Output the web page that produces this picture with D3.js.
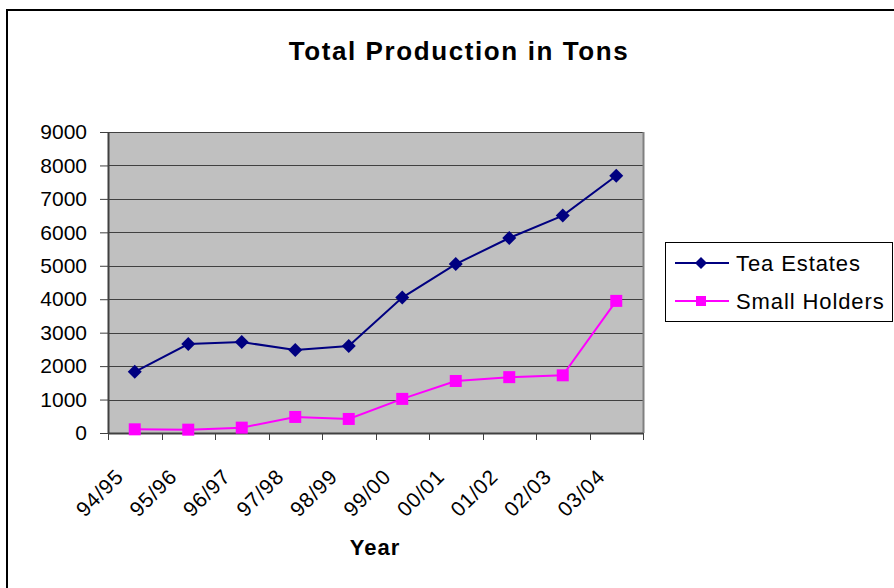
<!DOCTYPE html>
<html>
<head>
<meta charset="utf-8">
<script src="https://cdn.jsdelivr.net/npm/d3@7"></script>
<style>
  html, body { margin: 0; padding: 0; background: #fff; }
  svg { display: block; font-family: Arial, "Liberation Sans", sans-serif; }
</style>
</head>
<body>
<svg id="chart" width="894" height="588"></svg>
<script>
// Production figures by season, in tons
const years = ["94/95", "95/96", "96/97", "97/98", "98/99", "99/00", "00/01", "01/02", "02/03", "03/04"];
const teaEstates = [1830, 2660, 2720, 2480, 2600, 4050, 5050, 5830, 6500, 7690];
const smallHolders = [110, 100, 160, 480, 420, 1020, 1555, 1670, 1725, 3950];
const yTicks = [0, 1000, 2000, 3000, 4000, 5000, 6000, 7000, 8000, 9000];

const series = [
  { name: "Tea Estates", values: teaEstates, color: "#000080", shape: "diamond" },
  { name: "Small Holders", values: smallHolders, color: "#FF00FF", shape: "square" }
];

const svg = d3.select("#chart");
const plot = { left: 108, top: 132, right: 643, bottom: 433 };

// outer chart frame
svg.append("rect")
  .attr("x", 7).attr("y", 10).attr("width", 900).attr("height", 600)
  .attr("fill", "#fff").attr("stroke", "#000").attr("stroke-width", 2);

const x = d3.scaleBand().domain(years).range([plot.left, plot.right]);
const y = d3.scaleLinear().domain([0, 9000]).range([plot.bottom, plot.top]);

// plot background
svg.append("rect")
  .attr("x", plot.left).attr("y", plot.top)
  .attr("width", plot.right - plot.left).attr("height", plot.bottom - plot.top)
  .attr("fill", "#C0C0C0");

// gridlines
svg.append("g").selectAll("line").data(yTicks.slice(1)).join("line")
  .attr("x1", plot.left).attr("x2", plot.right)
  .attr("y1", d => Math.round(y(d)) + 0.5).attr("y2", d => Math.round(y(d)) + 0.5)
  .attr("stroke", "#404040").attr("stroke-width", 1);

// right edge of plot area
svg.append("line")
  .attr("x1", plot.right + 0.5).attr("x2", plot.right + 0.5)
  .attr("y1", plot.top).attr("y2", plot.bottom)
  .attr("stroke", "#808080").attr("stroke-width", 2);

// y axis
const yAxis = svg.append("g")
  .attr("transform", `translate(${plot.left},0)`)
  .call(d3.axisLeft(y).tickValues(yTicks).tickFormat(d3.format("d"))
    .tickSize(8).tickPadding(13).tickSizeOuter(0));
yAxis.select(".domain").attr("stroke", "#404040").attr("stroke-width", 2);
yAxis.selectAll(".tick line").attr("stroke", "#404040");
yAxis.selectAll(".tick text")
  .attr("font-size", 21).attr("fill", "#000")
  .attr("font-family", "Arial, 'Liberation Sans', sans-serif");

// x axis: ticks at category boundaries
const boundaries = d3.range(years.length + 1).map(i => plot.left + i * x.bandwidth());
const xg = svg.append("g");
xg.append("line")
  .attr("x1", plot.left).attr("x2", plot.right)
  .attr("y1", plot.bottom + 0.5).attr("y2", plot.bottom + 0.5)
  .attr("stroke", "#404040").attr("stroke-width", 2);
xg.selectAll("line.tk").data(boundaries).join("line")
  .attr("class", "tk")
  .attr("x1", d => Math.round(d) + 0.5).attr("x2", d => Math.round(d) + 0.5)
  .attr("y1", plot.bottom).attr("y2", plot.bottom + 7)
  .attr("stroke", "#404040");

xg.selectAll("text").data(years).join("text")
  .attr("transform", d => `translate(${x(d) + x.bandwidth() / 2 - 10},${478}) rotate(-45)`)
  .attr("text-anchor", "end")
  .attr("font-size", 21)
  .attr("letter-spacing", 0.8)
  .text(d => d);

// lines and markers
const line = d3.line()
  .x((d, i) => x(years[i]) + x.bandwidth() / 2)
  .y(d => y(d));

series.forEach(s => {
  svg.append("path")
    .attr("d", line(s.values))
    .attr("fill", "none").attr("stroke", s.color).attr("stroke-width", 2);
  const g = svg.append("g");
  s.values.forEach((v, i) => {
    const cx = x(years[i]) + x.bandwidth() / 2, cy = y(v);
    if (s.shape === "diamond") {
      g.append("path")
        .attr("d", `M${cx},${cy - 7}L${cx + 7},${cy}L${cx},${cy + 7}L${cx - 7},${cy}Z`)
        .attr("fill", s.color);
    } else {
      g.append("rect")
        .attr("x", cx - 6).attr("y", cy - 6).attr("width", 12).attr("height", 12)
        .attr("fill", s.color);
    }
  });
});

// title
svg.append("text")
  .attr("x", 459).attr("y", 60)
  .attr("text-anchor", "middle")
  .attr("font-size", 26).attr("font-weight", "bold")
  .attr("letter-spacing", 1.6)
  .text("Total Production in Tons");

// x axis title
svg.append("text")
  .attr("x", 375).attr("y", 555)
  .attr("text-anchor", "middle")
  .attr("font-size", 22).attr("font-weight", "bold")
  .attr("letter-spacing", 1)
  .text("Year");

// legend
const lg = svg.append("g");
lg.append("rect")
  .attr("x", 665.5).attr("y", 242.5).attr("width", 227).attr("height", 79)
  .attr("fill", "#fff").attr("stroke", "#000").attr("stroke-width", 1);
series.forEach((s, i) => {
  const ly = 263 + i * 38;
  lg.append("line")
    .attr("x1", 675).attr("x2", 729).attr("y1", ly).attr("y2", ly)
    .attr("stroke", s.color).attr("stroke-width", 2);
  if (s.shape === "diamond") {
    lg.append("path")
      .attr("d", `M701,${ly - 6}L707,${ly}L701,${ly + 6}L695,${ly}Z`)
      .attr("fill", s.color);
  } else {
    lg.append("rect")
      .attr("x", 696).attr("y", ly - 5).attr("width", 10).attr("height", 10)
      .attr("fill", s.color);
  }
  lg.append("text")
    .attr("x", 736).attr("y", ly + 8)
    .attr("font-size", 22)
    .attr("letter-spacing", 0.9)
    .text(s.name);
});
</script>
</body>
</html>
